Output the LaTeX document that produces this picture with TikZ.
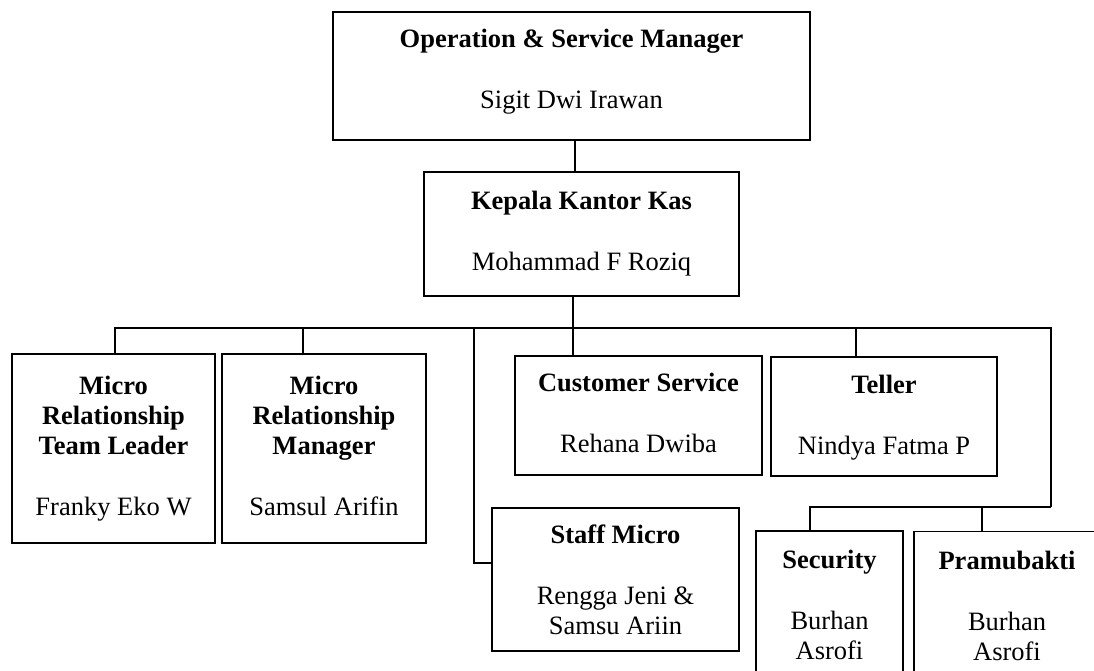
\documentclass[tikz,border=0pt]{standalone}
\usepackage{fontspec}
\setmainfont{Liberation Serif}
\usepackage{tikz}
\usetikzlibrary{positioning}

\begin{document}
\begin{tikzpicture}[
	x=1pt, y=-1pt,
  box/.style = {draw, line width=1.6pt, align=center, inner sep=0pt,
    font=\fontsize{26.5}{30}\selectfont},
  link/.style = {line width=1.6pt}
  ]
	\useasboundingbox (0,0) rectangle (1094,671);
	\clip (0,0) rectangle (1094,671);

	\node[box, minimum width=477pt, minimum height=128pt] (osm) at (571.5,76)
		{\strut\textbf{Operation \& Service Manager}\\[31pt]Sigit Dwi Irawan\rule[-16pt]{0pt}{0pt}};
	\node[box, minimum width=315pt, minimum height=124pt] (kkk) at (581.5,234)
		{\strut\textbf{Kepala Kantor Kas}\\[31pt]Mohammad F Roziq\strut};

	\node[box, minimum width=203pt, minimum height=189pt] (mrtl) at (113.5,448.5)
		{\strut\textbf{Micro}\\\textbf{Relationship}\\\textbf{Team Leader}\\[31pt]Franky Eko W\strut};
	\node[box, minimum width=204pt, minimum height=189pt] (mrm) at (324,448.5)
		{\strut\textbf{Micro}\\\textbf{Relationship}\\\textbf{Manager}\\[31pt]Samsul Arifin\strut};
	\node[box, minimum width=247pt, minimum height=119pt] (cs) at (638.5,415.5)
		{\strut\textbf{Customer Service}\\[31pt]Rehana Dwiba\strut};
	\node[box, minimum width=226pt, minimum height=119pt] (tel) at (884,416.5)
		{\rule{0pt}{24pt}\textbf{Teller}\\[31pt]Nindya Fatma P\strut};
	\node[box, minimum width=247pt, minimum height=143pt] (stf) at (615.5,579.5)
		{\rule{0pt}{27pt}\textbf{Staff Micro}\\[31pt]Rengga Jeni \&\\Samsu Ariin\strut};
	\node[box, minimum width=147pt, minimum height=150pt] (sec) at (829.5,606)
		{\rule{0pt}{25pt}\textbf{Security}\\[31pt]Burhan\\Asrofi\strut};
	\node[box, minimum width=186pt, minimum height=150pt] (pra) at (1007,606.5)
		{\rule{0pt}{25pt}\textbf{Pramubakti}\\[31pt]Burhan\\Asrofi\strut};

	% bus lines
	\coordinate (bus) at (573,328);
	\coordinate (tap) at (474,328);
	\coordinate (busR) at (1051,328);
	\coordinate (subR) at (1051,507);

	\draw[link] ([xshift=3.5pt]osm.south) -- ([xshift=3.5pt]osm.south |- kkk.north);
	\draw[link] ([xshift=-8.5pt]kkk.south) -- (bus);
	\draw[link] ([xshift=1.5pt]mrtl.north) |- (busR) -- (subR);
	\draw[link] ([xshift=-21pt]mrm.north) |- (bus);
	\draw[link] ([xshift=-65.5pt]cs.north) |- (bus);
	\draw[link] ([xshift=-28pt]tel.north) |- (bus);
	\draw[link] ([yshift=16.5pt]stf.west) -| (tap);
	\draw[link] ([xshift=-19.5pt]sec.north) |- (subR);
	\draw[link] ([xshift=-25pt]pra.north) |- (subR);

\end{tikzpicture}
\end{document}
